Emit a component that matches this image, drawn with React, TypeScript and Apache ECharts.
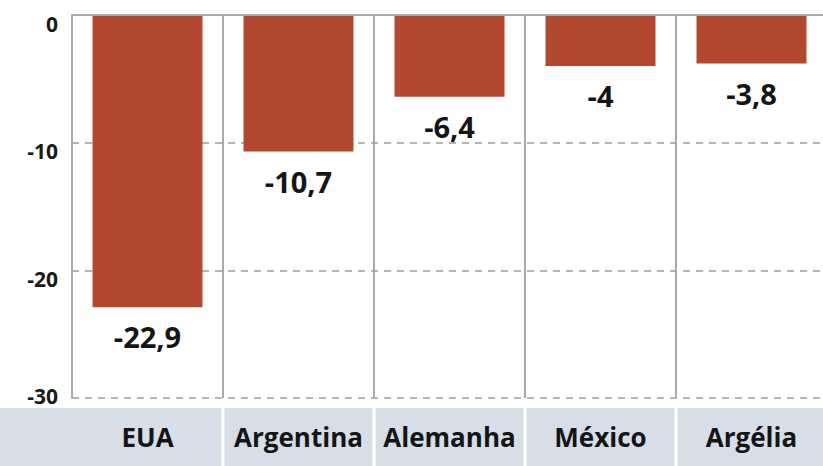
import React, { useEffect, useRef } from "react";
import * as echarts from "echarts";

const categories = ["EUA", "Argentina", "Alemanha", "México", "Argélia"];
const values = [-22.9, -10.7, -6.4, -4, -3.8];
const yTicks = [0, -10, -20, -30];

const FONT = "'Open Sans', 'DejaVu Sans', sans-serif";

export default function App() {
  const ref = useRef<HTMLDivElement>(null);
  useEffect(() => {
    if (!ref.current) return;
    const chart = echarts.init(ref.current, undefined, { renderer: "svg" });
    chart.setOption({
      animation: false,
      backgroundColor: "#ffffff",
      grid: { left: 72, width: 755, top: 15, bottom: 68, containLabel: false, outerBoundsMode: "none" },
      xAxis: {
        type: "category",
        data: categories,
        axisLine: { show: false },
        axisTick: { show: false },
        splitLine: { show: true, lineStyle: { color: "#a9a9a9", width: 2, type: "solid" } },
        axisLabel: {
          interval: 0,
          margin: 10,
          width: 148,
          height: 58,
          lineHeight: 58,
          backgroundColor: "#d6dfe8",
          align: "center",
          fontFamily: FONT,
          fontWeight: "bold",
          fontSize: 26,
          color: "#151515",
        },
      },
      yAxis: {
        type: "value",
        min: -30,
        max: 0,
        interval: 10,
        axisLine: { show: true, lineStyle: { color: "#a9a9a9", width: 2 } },
        axisTick: { show: false },
        splitLine: {
          show: true,
          lineStyle: { color: "#b5b5b5", width: 2, type: [7, 6] },
        },
        axisLabel: {
          margin: 14,
          formatter: (v: number) =>
            yTicks.includes(v) ? (v === -30 ? "{b|" + v + "}" : "{a|" + v + "}") : "",
          rich: {
            a: {
              fontFamily: FONT,
              fontWeight: "bold",
              fontSize: 21,
              color: "#1a1a1a",
              padding: [17, 0, 0, 0],
            },
            b: {
              fontFamily: FONT,
              fontWeight: "bold",
              fontSize: 21,
              color: "#1a1a1a",
              padding: [0, 0, 4, 0],
            },
          },
        },
      },
      graphic: [
        {
          type: "rect",
          shape: { x: 0, y: 408, width: 74, height: 58 },
          style: { fill: "#d6dfe8" },
          silent: true,
        },
      ],
      series: [
        {
          type: "bar",
          data: values,
          barWidth: 110,
          itemStyle: { color: "#b34830" },
          label: {
            show: true,
            position: "bottom",
            distance: 15,
            fontFamily: FONT,
            fontWeight: "bold",
            fontSize: 29,
            color: "#151515",
            formatter: (p: any) => String(p.value).replace(".", ","),
          },
          markLine: {
            silent: true,
            symbol: "none",
            label: { show: false },
            lineStyle: { color: "#a9a9a9", width: 2, type: "solid" },
            data: [{ yAxis: 0 }],
          },
        },
      ],
    });
    return () => chart.dispose();
  }, []);
  return (
    <div
      ref={ref}
      style={{ position: "fixed", left: 0, top: 0, width: 823, height: 466 }}
    />
  );
}
